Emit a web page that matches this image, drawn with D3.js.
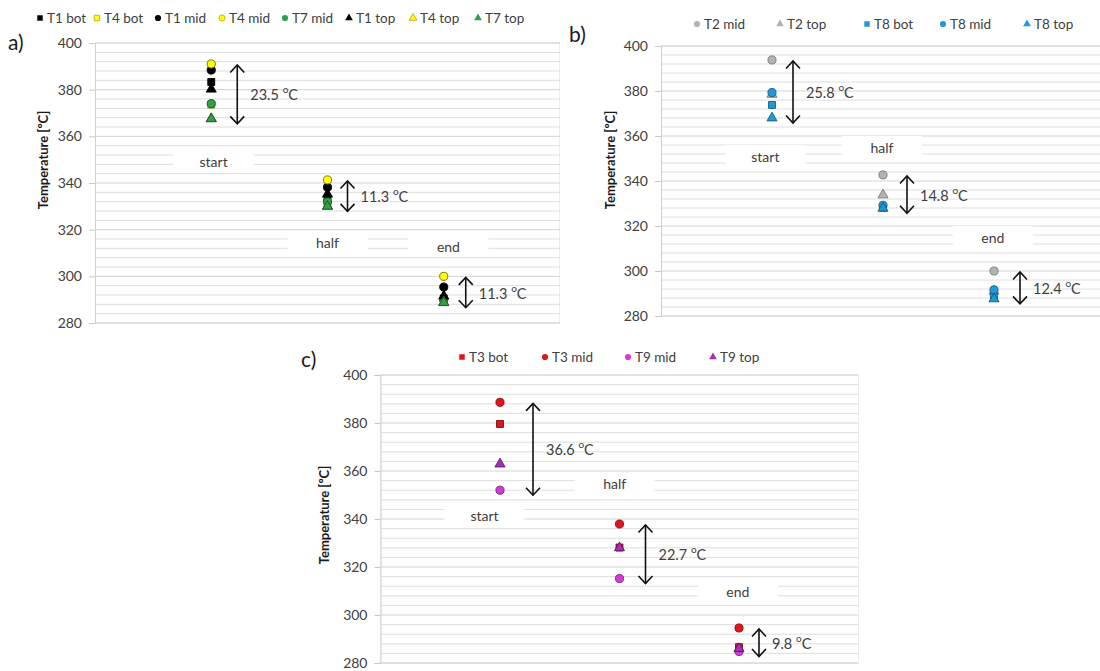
<!DOCTYPE html>
<html>
<head>
<meta charset="utf-8">
<script src="https://cdn.jsdelivr.net/npm/d3@7"></script>
<style>
  html, body { margin: 0; padding: 0; background: #fff; }
  svg { display: block; font-family: Lato, "Open Sans", sans-serif; }
</style>
</head>
<body>
<svg id="fig" width="1100" height="671"></svg>
<script>
// ---- shared axis values ----
const yTicks = [280, 300, 320, 340, 360, 380, 400];
const stages = ["start", "half", "end"];

// ---- panel a ----
const seriesA = ["T1 bot", "T4 bot", "T1 mid", "T4 mid", "T7 mid", "T1 top", "T4 top", "T7 top"];
const valuesA = [
  [383.3, 333.0, 290.5],
  [373.6, 331.0, 289.4],
  [388.4, 338.2, 295.4],
  [391.0, 341.3, 300.0],
  [374.0, 332.0, 290.0],
  [380.2, 335.2, 291.5],
  [367.6, 330.0, 288.9],
  [367.5, 330.0, 288.7]
];
const deltasA = ["23.5", "11.3", "11.3"];
const labelPosA = [[1.02, 349.4], [2.0, 314.3], [3.04, 313.0]];

// ---- panel b ----
const seriesB = ["T2 mid", "T2 top", "T8 bot", "T8 mid", "T8 top"];
const valuesB = [
  [393.8, 342.7, 300.0],
  [378.5, 333.8, 291.0],
  [373.8, 328.0, 288.5],
  [379.3, 329.2, 291.6],
  [368.0, 327.9, 287.6]
];
const deltasB = ["25.8", "14.8", "12.4"];
const labelPosB = [[0.94, 351.1], [1.99, 355.1], [2.99, 315.1]];

// ---- panel c ----
const seriesC = ["T3 bot", "T3 mid", "T9 mid", "T9 top"];
const valuesC = [
  [379.6, 328.1, 286.6],
  [388.6, 337.9, 294.6],
  [352.0, 315.2, 284.8],
  [362.9, 328.0, 286.0]
];
const deltasC = ["36.6", "22.7", "9.8"];
const labelPosC = [[0.87, 341.3], [1.96, 354.6], [2.99, 309.6]];

// marker style per sensor: shape, fill, outline
const styles = {
  "T1 bot": ["square", "#000000", "#000000"],
  "T4 bot": ["square", "#ffff00", "#8a8a00"],
  "T1 mid": ["circle", "#000000", "#000000"],
  "T4 mid": ["circle", "#ffff00", "#6b6b00"],
  "T7 mid": ["circle", "#2ea24a", "#1c4d25"],
  "T1 top": ["triangle", "#000000", "#000000"],
  "T4 top": ["triangle", "#ffff00", "#8a8a00"],
  "T7 top": ["triangle", "#2ea24a", "#1c4d25"],
  "T2 mid": ["circle", "#b3b3b3", "#7a7a7a"],
  "T2 top": ["triangle", "#b3b3b3", "#7a7a7a"],
  "T8 bot": ["square", "#1f9ad6", "#155d80"],
  "T8 mid": ["circle", "#1f9ad6", "#155d80"],
  "T8 top": ["triangle", "#1f9ad6", "#155d80"],
  "T3 bot": ["square", "#e3141c", "#7a0b0f"],
  "T3 mid": ["circle", "#e3141c", "#8a0c10"],
  "T9 mid": ["circle", "#d63ad6", "#7a1f7a"],
  "T9 top": ["triangle", "#a62fb8", "#5c1866"]
};
const symbolTypes = { square: d3.symbolSquare, circle: d3.symbolCircle, triangle: d3.symbolTriangle };
const symbolSizes = { square: 48, circle: 52, triangle: 44 };

const svg = d3.select("#fig");

const panels = [
  { tag: "a)", tagX: 8, tagY: 50, series: seriesA, values: valuesA, deltas: deltasA, labels: labelPosA,
    left: 95, right: 560, top: 43, bottom: 323, titleX: 45, titleY: 160,
    legendY: 18, legendX: [40, 97, 158, 222, 285, 349, 413, 478], arrowDx: [26, 20, 22] },
  { tag: "b)", tagX: 569, tagY: 42, series: seriesB, values: valuesB, deltas: deltasB, labels: labelPosB,
    left: 661, right: 1105, top: 46, bottom: 316, titleX: 612, titleY: 160,
    legendY: 24, legendX: [697, 780, 867, 943, 1027], arrowDx: [21, 24, 26] },
  { tag: "c)", tagX: 301, tagY: 367, series: seriesC, values: valuesC, deltas: deltasC, labels: labelPosC,
    left: 380.5, right: 858.5, top: 375, bottom: 663, titleX: 326, titleY: 515,
    legendY: 357, legendX: [462, 545, 628, 713], arrowDx: [33, 26, 20] }
];

panels.forEach((p, pi) => {
  const g = svg.append("g");
  const x = d3.scaleLinear().domain([0, 4]).range([p.left, p.right]);
  const y = d3.scaleLinear().domain([280, 400]).range([p.bottom, p.top]);

  const clipId = "clip" + pi;
  g.append("clipPath").attr("id", clipId)
    .append("rect").attr("x", p.left).attr("y", p.top - 2)
    .attr("width", p.right - p.left).attr("height", p.bottom - p.top + 4);

  const plot = g.append("g").attr("clip-path", `url(#${clipId})`);

  // minor + major gridlines every 4 degrees
  plot.selectAll("line.grid")
    .data(d3.range(280, 401, 4))
    .join("line")
    .attr("x1", p.left).attr("x2", p.right)
    .attr("y1", d => y(d)).attr("y2", d => y(d))
    .attr("stroke", d => (d % 20 === 0 ? "#d4d4d4" : "#dedede"))
    .attr("stroke-width", 1);

  plot.append("rect")
    .attr("x", p.left).attr("y", p.top)
    .attr("width", p.right - p.left).attr("height", p.bottom - p.top)
    .attr("fill", "none").attr("stroke", "#d9d9d9");

  // y axis
  const axis = g.append("g")
    .attr("transform", `translate(${p.left},0)`)
    .call(d3.axisLeft(y).tickValues(yTicks).tickSize(6).tickPadding(7));
  axis.select(".domain").attr("stroke", "#d0d0d0");
  axis.selectAll(".tick line").attr("stroke", "#c8c8c8");
  axis.selectAll(".tick text")
    .attr("fill", "#404040").attr("font-size", 14)
    .attr("font-family", "Lato, 'Open Sans', sans-serif");

  // axis title
  g.append("text")
    .attr("transform", `translate(${p.titleX},${p.titleY}) rotate(-90)`)
    .attr("text-anchor", "middle").attr("dominant-baseline", "middle")
    .attr("font-size", 13).attr("font-weight", "bold").attr("fill", "#1a1a1a")
    .text("Temperature [ºC]");

  // panel tag
  g.append("text").attr("x", p.tagX).attr("y", p.tagY)
    .attr("font-size", 21).attr("fill", "#1a1a1a").text(p.tag);

  // stage labels on white boxes
  const lab = plot.selectAll("g.stage")
    .data(stages.map((s, i) => ({ s, pos: p.labels[i] })))
    .join("g")
    .attr("transform", d => `translate(${x(d.pos[0])},${y(d.pos[1])})`);
  lab.append("rect").attr("x", -40).attr("y", -11).attr("width", 80).attr("height", 22).attr("fill", "#fff");
  lab.append("text").attr("text-anchor", "middle").attr("dominant-baseline", "central")
    .attr("font-size", 14).attr("fill", "#404040").text(d => d.s);

  // spread arrows and labels
  stages.forEach((s, i) => {
    const col = p.values.map(v => v[i]);
    const hi = d3.max(col), lo = d3.min(col);
    const ax = x(i + 1) + p.arrowDx[i];
    const y1 = y(hi) + 1, y2 = y(lo) + 5;
    const h = 7.5, w = 7;
    const ag = g.append("g").attr("fill", "none").attr("stroke", "#111").attr("stroke-width", 1.6);
    ag.append("line").attr("x1", ax).attr("x2", ax).attr("y1", y1).attr("y2", y2);
    ag.append("path").attr("d", `M${ax - w},${y1 + h}L${ax},${y1}L${ax + w},${y1 + h}`);
    ag.append("path").attr("d", `M${ax - w},${y2 - h}L${ax},${y2}L${ax + w},${y2 - h}`);
    const t = g.append("text").attr("x", ax + 13).attr("y", (y1 + y2) / 2)
      .attr("dominant-baseline", "central").attr("font-size", 14.5).attr("fill", "#404040");
    t.append("tspan").text(p.deltas[i] + " ");
    t.append("tspan").attr("font-size", 10).attr("dy", -5).text("o");
    t.append("tspan").attr("dy", 5).text("C");
  });

  // markers
  p.series.forEach((name, si) => {
    const [shape, fill, stroke] = styles[name];
    const sym = d3.symbol().type(symbolTypes[shape]).size(symbolSizes[shape]);
    plot.selectAll(null)
      .data(p.values[si].map((v, i) => ({ v, i })))
      .join("path")
      .attr("d", sym)
      .attr("transform", d => `translate(${x(d.i + 1)},${y(d.v)})`)
      .attr("fill", fill).attr("stroke", stroke).attr("stroke-width", 0.9);
  });

  // legend
  const leg = g.selectAll("g.leg")
    .data(p.series)
    .join("g")
    .attr("transform", (d, i) => `translate(${p.legendX[i]},${p.legendY})`);
  leg.append("path")
    .attr("d", d => d3.symbol().type(symbolTypes[styles[d][0]]).size(styles[d][0] === "triangle" ? 26 : 30)())
    .attr("fill", d => styles[d][1])
    .attr("stroke", d => styles[d][1] === "#ffff00" ? "#b5a800" : "none")
    .attr("stroke-width", 0.8);
  leg.append("text").attr("x", 7).attr("dominant-baseline", "central")
    .attr("font-size", 13.5).attr("fill", "#404040").text(d => d);
});
</script>
</body>
</html>
